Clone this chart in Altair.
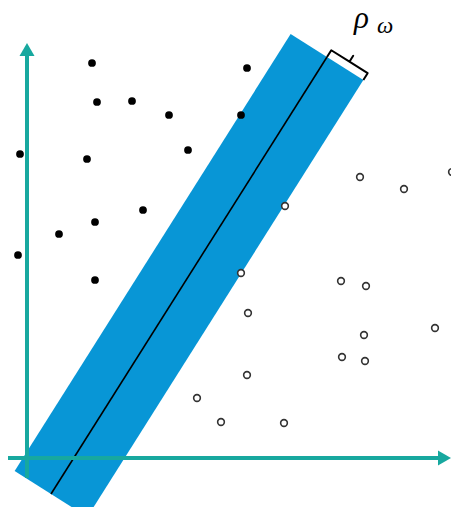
import altair as alt
import numpy as np
import pandas as pd

# data coordinates: origin at the axes' intersection
pos_x = [65, 220, 70, 105, 142, 214, -7, 60, 161, 116, 68, 32, -9, 68]
pos_y = [395, 390, 356, 357, 343, 343, 304, 299, 308, 248, 236, 224, 203, 178]
neg_x = [333, 377, 425, 258, 214, 314, 339, 221, 337, 408, 315, 338, 220, 170, 194, 257]
neg_y = [281, 269, 286, 252, 185, 177, 172, 145, 123, 130, 101, 97, 83, 60, 36, 35]

# separating line (centre of the margin band) and half margin
line_x = [24, 300]
line_y = [-36, 401]
half_margin = 43

# axes extents
x_axis = [-19, 414]
y_axis = [-20, 406]
x_tip = 417.5
y_tip = 408.5

BLUE = "#0896d6"
TEAL = "#17a89f"

X = alt.Scale(domain=[-19, 424], nice=False, zero=False)
Y = alt.Scale(domain=[-49, 450], nice=False, zero=False)

def xe(f="x"):
    return alt.X(f"{f}:Q", scale=X, axis=None)

def ye(f="y"):
    return alt.Y(f"{f}:Q", scale=Y, axis=None)

line_df = pd.DataFrame({"x": line_x, "y": line_y})

band = alt.Chart(line_df).mark_line(
    color=BLUE, strokeWidth=2 * half_margin, strokeCap="butt"
).encode(x=xe(), y=ye())

center = alt.Chart(line_df).mark_line(color="black", strokeWidth=1.6).encode(x=xe(), y=ye())

xaxis_df = pd.DataFrame({"x": x_axis, "y": [0, 0]})
yaxis_df = pd.DataFrame({"x": [0, 0], "y": y_axis})
xaxis = alt.Chart(xaxis_df).mark_line(color=TEAL, strokeWidth=4).encode(x=xe(), y=ye())
yaxis = alt.Chart(yaxis_df).mark_line(color=TEAL, strokeWidth=4).encode(x=xe(), y=ye())

xhead = alt.Chart(pd.DataFrame({"x": [x_tip], "y": [0]})).mark_point(
    shape="M-0.87,-1L0.87,0L-0.87,1Z", filled=True, fill=TEAL, opacity=1,
    size=225, strokeWidth=0
).encode(x=xe(), y=ye())
yhead = alt.Chart(pd.DataFrame({"x": [0], "y": [y_tip]})).mark_point(
    shape="M-1,0.87L0,-0.87L1,0.87Z", filled=True, fill=TEAL, opacity=1,
    size=225, strokeWidth=0
).encode(x=xe(), y=ye())

pos = alt.Chart(pd.DataFrame({"x": pos_x, "y": pos_y})).mark_circle(
    color="black", opacity=1, size=60
).encode(x=xe(), y=ye())

neg = alt.Chart(pd.DataFrame({"x": neg_x, "y": neg_y})).mark_point(
    shape="circle", filled=False, stroke="#333333", fill="white", fillOpacity=1,
    opacity=1, size=45, strokeWidth=1.6
).encode(x=xe(), y=ye())

# bracket marking the margin width
p0 = np.array([line_x[1], line_y[1]], dtype=float)
d = np.array([line_x[1] - line_x[0], line_y[1] - line_y[0]], dtype=float)
u = d / np.linalg.norm(d)
n = np.array([u[1], -u[0]])
r = p0 + half_margin * n
a2 = p0 + 8 * u
c2 = r + 8 * u
m = (a2 + c2) / 2
t = m + 7 * u
pts = [p0, a2, m, t, m, c2, r]
br_df = pd.DataFrame({"x": [p[0] for p in pts], "y": [p[1] for p in pts], "o": list(range(len(pts)))})
bracket = alt.Chart(br_df).mark_line(color="black", strokeWidth=2, strokeJoin="round").encode(
    x=xe(), y=ye(), order="o:O"
)

rho = alt.Chart(pd.DataFrame({"x": [327], "y": [430], "t": ["ρ"]})).mark_text(
    font="Liberation Serif", fontStyle="italic", fontSize=31, align="left",
    baseline="alphabetic", color="black"
).encode(x=xe(), y=ye(), text="t:N")
omega = alt.Chart(pd.DataFrame({"x": [350], "y": [425], "t": ["ω"]})).mark_text(
    font="Liberation Serif", fontStyle="italic", fontSize=23, align="left",
    baseline="alphabetic", color="black"
).encode(x=xe(), y=ye(), text="t:N")

chart = alt.layer(
    band, center, xaxis, yaxis, xhead, yhead, pos, neg, bracket, rho, omega
).properties(
    width=443, height=499, padding=0,
    autosize=alt.AutoSizeParams(type="none")
).configure_view(stroke=None)

chart.save("out.html", embed_options={"renderer": "svg", "actions": False})
